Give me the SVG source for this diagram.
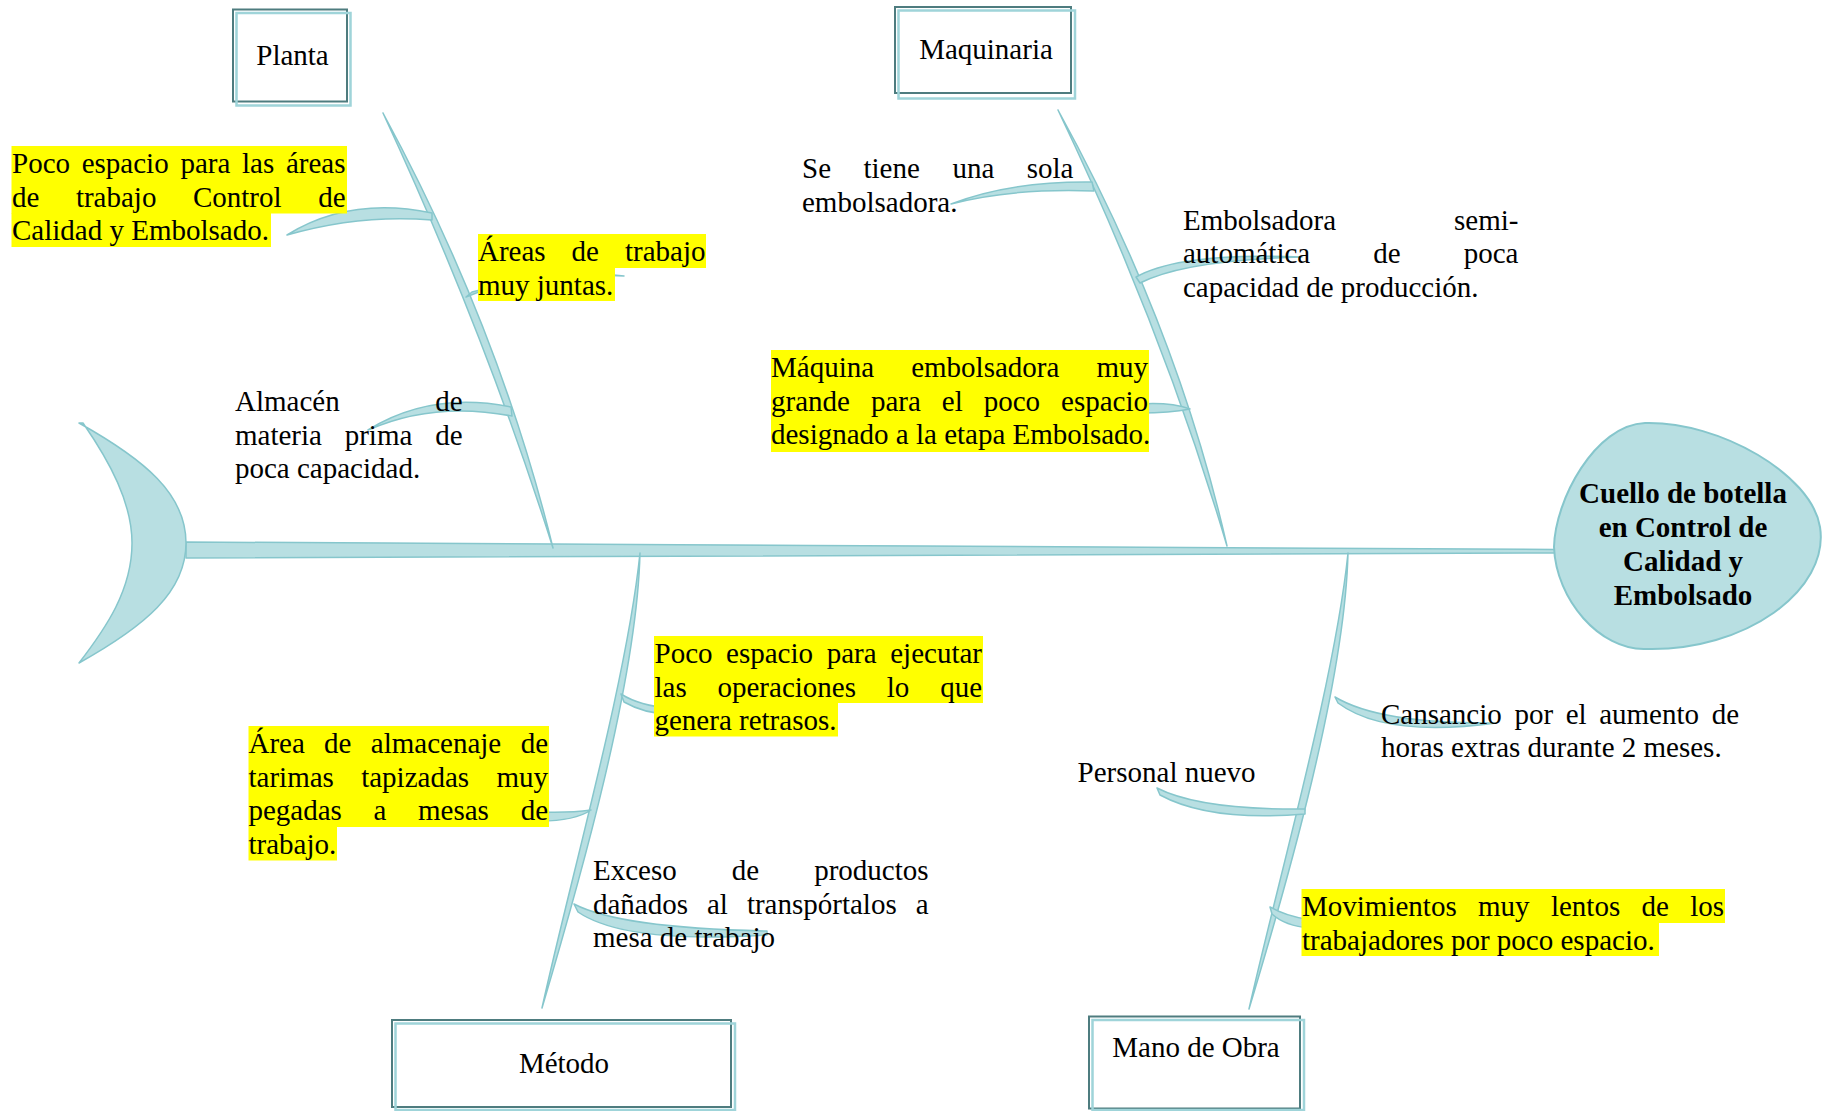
<svg xmlns="http://www.w3.org/2000/svg" width="1822" height="1111" viewBox="0 0 1822 1111">
<defs>
<style>
.bone{fill:#b8dfe2;stroke:#86c6cc;stroke-width:1.5;stroke-linejoin:round}
.t{font-family:"Liberation Serif","Times New Roman",serif;font-size:29px;fill:#000}
.b{font-weight:bold}
.e{text-anchor:end}
.m{text-anchor:middle}
.hl{fill:#ffff00}
.bx{fill:#fff;stroke:#4e7c7f;stroke-width:2}
.bx2{fill:none;stroke:#9fd4d9;stroke-width:2.5}
</style>
</defs>
<rect width="1822" height="1111" fill="#fff"/>
<g id="connectors">
<path class="bone" d="M186,542 Q870,545 1556,549.5 L1556,553 Q870,555 186,558 Z"/>
<path class="bone" d="M383,113 Q485,333 553,548 Q499,327 383,113 Z"/>
<path class="bone" d="M1058,110 Q1163,330 1227,546 Q1177,326 1058,110 Z"/>
<path class="bone" d="M640,553 C627,680 570,880 542,1008 C580,880 637,680 640,553 Z"/>
<path class="bone" d="M1348,553 C1335,680 1278,880 1249,1009 C1288,880 1345,680 1348,553 Z"/>
<path class="bone" d="M432,213 Q350,196 287,235 Q360,214 432,220 Z"/>
<path class="bone" d="M466,297 Q540,266 624,276 Q545,272 472,292 Z"/>
<path class="bone" d="M511,407 Q431,391 368,430 Q434,401 512,416 Z"/>
<path class="bone" d="M1092,182 Q1010,181 951,204 Q1012,188 1094,191 Z"/>
<path class="bone" d="M1136,277 Q1180,252 1302,257 Q1185,260 1140,283 Z"/>
<path class="bone" d="M1140,404 Q1170,402 1190,409 Q1170,413 1140,413 Z"/>
<path class="bone" d="M621,694 Q640,706 670,708 L670,714 Q645,714 624,702 Z"/>
<path class="bone" d="M540,812 Q570,813 591,810 Q575,821 540,821 Z"/>
<path class="bone" d="M574,904 Q620,928 767,931 L767,935 Q625,944 578,912 Z"/>
<path class="bone" d="M1335,697 Q1380,724 1496,723 Q1385,738 1338,703 Z"/>
<path class="bone" d="M1157,788 Q1200,810 1305,809 L1305,814 Q1210,822 1160,795 Z"/>
<path class="bone" d="M1270,907 Q1285,916 1310,920 L1310,928 Q1285,926 1272,914 Z"/>
</g>
<g id="tail">
<path class="bone" d="M79,423 C145,460 186,494 186,543 C186,592 145,626 79,663 C106,628 132,590 132,543 C132,503 110,462 83,423 Z"/>
</g>
<g id="head">
<path class="bone" style="stroke-width:2" d="M1554,547 C1555,500 1595,425 1645,423 C1720,421 1812,475 1820,527 C1830,590 1745,652 1645,649 C1600,650 1556,600 1554,547 Z"/>
<text class="t b m" x="1683" y="503">Cuello de botella</text>
<text class="t b m" x="1683" y="537">en Control de</text>
<text class="t b m" x="1683" y="571">Calidad y</text>
<text class="t b m" x="1683" y="605">Embolsado</text>
</g>
<g id="cat-planta">
<rect class="bx" x="233" y="9.5" width="114" height="92"/>
<rect class="bx2" x="236.5" y="13" width="114" height="92.5"/>
<text class="t m" x="292.5" y="65">Planta</text>
</g>
<g id="cat-maquinaria">
<rect class="bx" x="895" y="7" width="176" height="86"/>
<rect class="bx2" x="898.5" y="10.5" width="176.5" height="88"/>
<text class="t m" x="986" y="59">Maquinaria</text>
</g>
<g id="cat-metodo">
<rect class="bx" x="392" y="1020" width="339" height="87"/>
<rect class="bx2" x="395.5" y="1023.5" width="339.5" height="86.5"/>
<text class="t m" x="564" y="1073">Método</text>
</g>
<g id="cat-mano-de-obra">
<rect class="bx" x="1089" y="1016.5" width="211" height="92"/>
<rect class="bx2" x="1092.5" y="1020" width="211.5" height="90"/>
<text class="t m" x="1196" y="1057">Mano de Obra</text>
</g>
<g id="cause-planta-1">
<rect class="hl" x="11.5" y="146" width="335.5" height="67.5"/>
<rect class="hl" x="11.5" y="213" width="259.5" height="34"/>
<text class="t" y="173"><tspan x="12">Poco</tspan><tspan x="81.7">espacio</tspan><tspan x="180.4">para</tspan><tspan x="242">las</tspan><tspan class="e" x="345.5">áreas</tspan></text>
<text class="t" y="206.5"><tspan x="12">de</tspan><tspan x="75.9">trabajo</tspan><tspan x="192.9">Control</tspan><tspan class="e" x="345.5">de</tspan></text>
<text class="t" x="12" y="240">Calidad y Embolsado.</text>
</g>
<g id="cause-planta-2">
<rect class="hl" x="478" y="234" width="228" height="34"/>
<rect class="hl" x="478" y="268" width="137" height="33"/>
<text class="t" y="261"><tspan x="478">Áreas</tspan><tspan x="571.4">de</tspan><tspan class="e" x="705.5">trabajo</tspan></text>
<text class="t" x="478" y="294.5">muy juntas.</text>
</g>
<g id="cause-planta-3">
<text class="t" y="411"><tspan x="235">Almacén</tspan><tspan class="e" x="462.5">de</tspan></text>
<text class="t" y="444.5"><tspan x="235">materia</tspan><tspan x="344.7">prima</tspan><tspan class="e" x="462.5">de</tspan></text>
<text class="t" x="235" y="478">poca capacidad.</text>
</g>
<g id="cause-maquinaria-1">
<text class="t" y="178"><tspan x="802">Se</tspan><tspan x="863.5">tiene</tspan><tspan x="952.4">una</tspan><tspan class="e" x="1073.5">sola</tspan></text>
<text class="t" x="802" y="212">embolsadora.</text>
</g>
<g id="cause-maquinaria-2">
<text class="t" y="229.5"><tspan x="1183">Embolsadora</tspan><tspan class="e" x="1518.5">semi-</tspan></text>
<text class="t" y="263"><tspan x="1183">automática</tspan><tspan x="1373.3">de</tspan><tspan class="e" x="1518.5">poca</tspan></text>
<text class="t" x="1183" y="296.5">capacidad de producción.</text>
</g>
<g id="cause-maquinaria-3">
<rect class="hl" x="771" y="350" width="378" height="102"/>
<text class="t" y="377"><tspan x="771">Máquina</tspan><tspan x="911.2">embolsadora</tspan><tspan class="e" x="1148">muy</tspan></text>
<text class="t" y="410.5"><tspan x="771">grande</tspan><tspan x="870.9">para</tspan><tspan x="941.8">el</tspan><tspan x="983.7">poco</tspan><tspan class="e" x="1148">espacio</tspan></text>
<text class="t" x="771" y="444">designado a la etapa Embolsado.</text>
</g>
<g id="cause-metodo-1">
<rect class="hl" x="654" y="636" width="329" height="67"/>
<rect class="hl" x="654" y="702.5" width="184" height="34"/>
<text class="t" y="663"><tspan x="654.5">Poco</tspan><tspan x="726.1">espacio</tspan><tspan x="826.7">para</tspan><tspan class="e" x="982">ejecutar</tspan></text>
<text class="t" y="696.5"><tspan x="654.5">las</tspan><tspan x="717.5">operaciones</tspan><tspan x="886.8">lo</tspan><tspan class="e" x="982">que</tspan></text>
<text class="t" x="654.5" y="730">genera retrasos.</text>
</g>
<g id="cause-metodo-2">
<rect class="hl" x="248.5" y="726" width="300.5" height="101"/>
<rect class="hl" x="248.5" y="826.5" width="88.5" height="34"/>
<text class="t" y="753"><tspan x="248.5">Área</tspan><tspan x="324.1">de</tspan><tspan x="370.8">almacenaje</tspan><tspan class="e" x="548">de</tspan></text>
<text class="t" y="786.5"><tspan x="248.5">tarimas</tspan><tspan x="361.2">tapizadas</tspan><tspan class="e" x="548">muy</tspan></text>
<text class="t" y="820"><tspan x="248.5">pegadas</tspan><tspan x="373.5">a</tspan><tspan x="418">mesas</tspan><tspan class="e" x="548">de</tspan></text>
<text class="t" x="248.5" y="853.5">trabajo.</text>
</g>
<g id="cause-metodo-3">
<text class="t" y="880"><tspan x="593">Exceso</tspan><tspan x="731.8">de</tspan><tspan class="e" x="928.5">productos</tspan></text>
<text class="t" y="913.5"><tspan x="593">dañados</tspan><tspan x="707">al</tspan><tspan x="746.9">transpórtalos</tspan><tspan class="e" x="928.5">a</tspan></text>
<text class="t" x="593" y="946.5">mesa de trabajo</text>
</g>
<g id="cause-mano-1">
<text class="t" y="723.5"><tspan x="1381">Cansancio</tspan><tspan x="1514.4">por</tspan><tspan x="1565.7">el</tspan><tspan x="1599.2">aumento</tspan><tspan class="e" x="1739">de</tspan></text>
<text class="t" x="1381" y="757">horas extras durante 2 meses.</text>
</g>
<g id="cause-mano-2">
<text class="t" x="1077.6" y="782">Personal nuevo</text>
</g>
<g id="cause-mano-3">
<rect class="hl" x="1301.5" y="889" width="423.5" height="34"/>
<rect class="hl" x="1301.5" y="922.5" width="357.5" height="33.5"/>
<text class="t" y="916"><tspan x="1302">Movimientos</tspan><tspan x="1478">muy</tspan><tspan x="1550.9">lentos</tspan><tspan x="1641.5">de</tspan><tspan class="e" x="1724">los</tspan></text>
<text class="t" x="1302" y="949.5">trabajadores por poco espacio.</text>
</g>
</svg>
